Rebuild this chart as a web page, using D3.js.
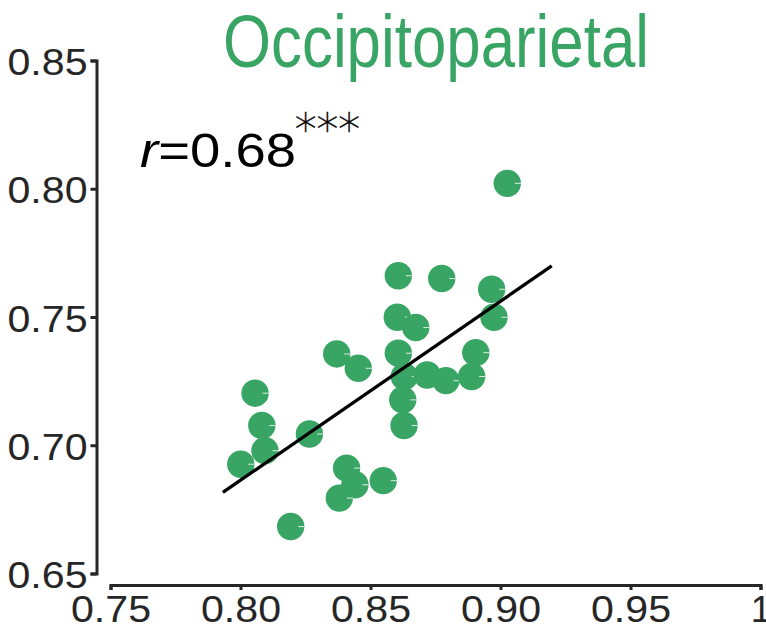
<!DOCTYPE html>
<html>
<head>
<meta charset="utf-8">
<script src="https://cdn.jsdelivr.net/npm/d3@7"></script>
<style>
  html, body { margin: 0; padding: 0; background: #fff; }
  svg { display: block; }
</style>
</head>
<body>
<svg id="chart" width="766" height="631"></svg>
<script>
// Scatter of paired accuracy scores, occipitoparietal region
const xVals = [0.9026, 0.8607, 0.8774, 0.8966, 0.8975, 0.8603, 0.8674, 0.8607, 0.8905,
               0.8370, 0.8453, 0.8630, 0.8718, 0.8790, 0.8889, 0.8056, 0.8624, 0.8629,
               0.8082, 0.8265, 0.8094, 0.8001, 0.8408, 0.8440, 0.8549, 0.8380, 0.8193];
const yVals = [0.8021, 0.7661, 0.7650, 0.7608, 0.7499, 0.7499, 0.7459, 0.7359, 0.7361,
               0.7356, 0.7300, 0.7268, 0.7274, 0.7252, 0.7268, 0.7203, 0.7177, 0.7077,
               0.7077, 0.7044, 0.6979, 0.6926, 0.6911, 0.6846, 0.6862, 0.6794, 0.6683];

// Least-squares fit line end points
const fitX = [0.7932, 0.9197];
const fitY = [0.6816, 0.7699];

const xTicks = [0.75, 0.80, 0.85, 0.90, 0.95, 1.0];
const xTickLabels = ["0.75", "0.80", "0.85", "0.90", "0.95", "1"];
const yTicks = [0.65, 0.70, 0.75, 0.80, 0.85];
const yTickLabels = ["0.65", "0.70", "0.75", "0.80", "0.85"];

const titleText = "Occipitoparietal";
const rText = "=0.68";
const sigText = "\u2217\u2217\u2217";

const green = "#39a564";
const axisColor = "#262626";
const font = "'Liberation Sans', Arial, Helvetica, sans-serif";

const svg = d3.select("#chart");
svg.append("rect").attr("width", 766).attr("height", 631).attr("fill", "#fff");

const x = d3.scaleLinear().domain([0.75, 1.0]).range([110.5, 760.5]);
const y = d3.scaleLinear().domain([0.65, 0.85]).range([573.5, 60.5]);

// Y axis, offset to the left of the plotting area
const yAxis = svg.append("g")
  .attr("transform", "translate(96.5,0)")
  .call(d3.axisLeft(y).tickValues(yTicks).tickSize(6).tickPadding(3)
        .tickFormat((d, i) => yTickLabels[i]));

// X axis, offset below the plotting area
const xAxis = svg.append("g")
  .attr("transform", "translate(0,585)")
  .call(d3.axisBottom(x).tickValues(xTicks).tickSize(5).tickPadding(6)
        .tickFormat((d, i) => xTickLabels[i]));

[yAxis, xAxis].forEach(g => {
  g.select(".domain").attr("stroke", axisColor).attr("stroke-width", 3);
  g.selectAll(".tick line").attr("stroke", axisColor).attr("stroke-width", 3);
  g.selectAll(".tick text")
    .attr("fill", axisColor)
    .style("font-family", font)
    .style("font-size", "37px")
    .each(function () {
      const t = d3.select(this);
      if (t.text().length > 1) t.attr("textLength", 80).attr("lengthAdjust", "spacingAndGlyphs");
    });
});
yAxis.selectAll(".tick text").attr("dy", "0.38em");

// Points
const r = 13.7;
const pts = svg.append("g");
xVals.forEach((xv, i) => {
  const cx = x(xv), cy = y(yVals[i]);
  const g = pts.append("g");
  g.append("circle").attr("cx", cx).attr("cy", cy).attr("r", r).attr("fill", green);
  g.append("line")
    .attr("x1", cx + r * 0.55).attr("x2", cx + r)
    .attr("y1", cy).attr("y2", cy)
    .attr("stroke", "rgba(255,255,255,0.75)").attr("stroke-width", 1.1);
});

// Fit line
svg.append("line")
  .attr("x1", x(fitX[0])).attr("y1", y(fitY[0]))
  .attr("x2", x(fitX[1])).attr("y2", y(fitY[1]))
  .attr("stroke", "#000").attr("stroke-width", 3.3);

// Title
svg.append("text")
  .attr("x", 436).attr("y", 67)
  .attr("text-anchor", "middle")
  .attr("fill", green)
  .style("font-family", font)
  .style("font-size", "74px")
  .attr("textLength", 426).attr("lengthAdjust", "spacingAndGlyphs")
  .text(titleText);

// Correlation annotation
const rt = svg.append("text")
  .attr("x", 140).attr("y", 166.5)
  .attr("fill", "#000")
  .style("font-family", font)
  .style("font-size", "49px")
  .attr("textLength", 156).attr("lengthAdjust", "spacingAndGlyphs");
rt.append("tspan").style("font-style", "italic").text("r");
rt.append("tspan").text(rText);

// Significance stars, thin and spread out as a superscript
svg.append("text")
  .attr("x", 292).attr("y", 120.5)
  .attr("dominant-baseline", "central")
  .attr("fill", "#000")
  .attr("stroke", "#000").attr("stroke-width", 0.4)
  .style("font-family", "'DejaVu Sans', sans-serif")
  .style("font-weight", 200)
  .style("font-size", "44px")
  .attr("textLength", 71).attr("lengthAdjust", "spacing")
  .text(sigText);
</script>
</body>
</html>
